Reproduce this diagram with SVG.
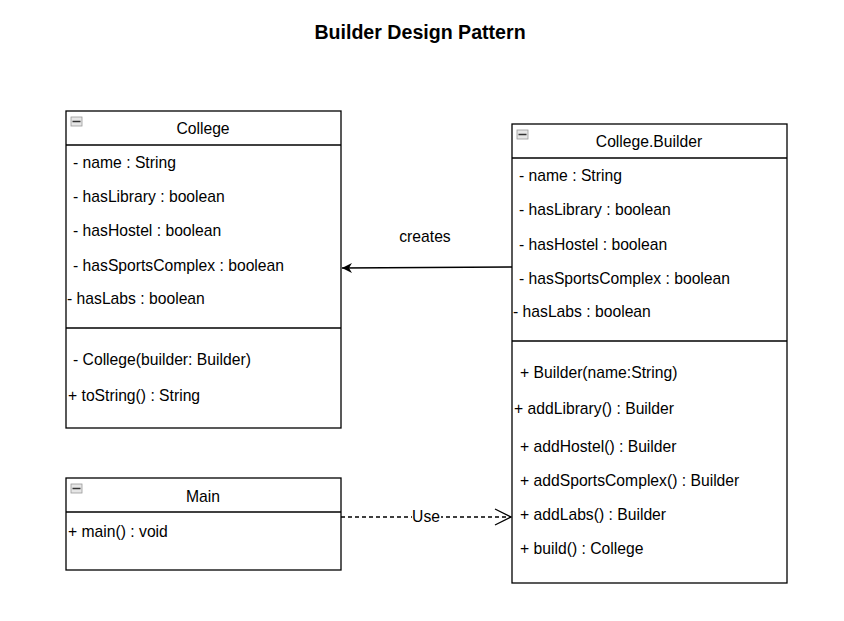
<svg xmlns="http://www.w3.org/2000/svg" width="844" height="621" viewBox="0 0 844 621">
<style>
.box{fill:#fff;stroke:#000;stroke-width:1.3}
.sep{stroke:#000;stroke-width:1.3;fill:none}
text{font-family:"Liberation Sans",Arial,sans-serif;font-size:15.7px;fill:#000}
.t{text-anchor:middle}
.ttl{font-size:19.6px;font-weight:bold;text-anchor:middle}
.ic{fill:#e6e6e6;stroke:#999;stroke-width:0.8}
.icl{stroke:#333;stroke-width:1.5}
.edge{stroke:#000;stroke-width:1.3;fill:none}
</style>
<defs>
<marker id="block" markerWidth="12" markerHeight="12" refX="10" refY="5" orient="auto" markerUnits="userSpaceOnUse" viewBox="0 0 12 10">
<path d="M0,0 L10,5 L0,10 L3,5 Z" fill="#000"/>
</marker>
<marker id="open" markerWidth="18" markerHeight="18" refX="17" refY="9" orient="auto" markerUnits="userSpaceOnUse" viewBox="0 0 18 18">
<path d="M1,1 L17,9 L1,17" fill="none" stroke="#000" stroke-width="1.3"/>
</marker>
</defs>
<text class="ttl" x="420" y="39">Builder Design Pattern</text>

<g id="college">
<rect class="box" x="66" y="111" width="275" height="317"/>
<line class="sep" x1="66" y1="145" x2="341" y2="145"/>
<line class="sep" x1="66" y1="328" x2="341" y2="328"/>
<rect class="ic" x="71" y="117" width="11" height="9"/><line class="icl" x1="72.5" y1="121.5" x2="80.5" y2="121.5"/>
<text class="t" x="203" y="134">College</text>
<text x="73" y="168">- name : String</text>
<text x="73" y="202">- hasLibrary : boolean</text>
<text x="73" y="236">- hasHostel : boolean</text>
<text x="73" y="271">- hasSportsComplex : boolean</text>
<text x="67" y="304">- hasLabs : boolean</text>
<text x="73" y="365">- College(builder: Builder)</text>
<text x="68" y="401">+ toString() : String</text>
</g>

<g id="builder">
<rect class="box" x="512" y="124" width="275" height="459"/>
<line class="sep" x1="512" y1="158" x2="787" y2="158"/>
<line class="sep" x1="512" y1="341" x2="787" y2="341"/>
<rect class="ic" x="517" y="130" width="11" height="9"/><line class="icl" x1="518.5" y1="134.5" x2="526.5" y2="134.5"/>
<text class="t" x="649" y="147">College.Builder</text>
<text x="519" y="181">- name : String</text>
<text x="519" y="215">- hasLibrary : boolean</text>
<text x="519" y="250">- hasHostel : boolean</text>
<text x="519" y="284">- hasSportsComplex : boolean</text>
<text x="513" y="317">- hasLabs : boolean</text>
<text x="520" y="378">+ Builder(name:String)</text>
<text x="514" y="414">+ addLibrary() : Builder</text>
<text x="520" y="452">+ addHostel() : Builder</text>
<text x="520" y="486">+ addSportsComplex() : Builder</text>
<text x="520" y="520">+ addLabs() : Builder</text>
<text x="520" y="554">+ build() : College</text>
</g>

<g id="main">
<rect class="box" x="66" y="478" width="275" height="92"/>
<line class="sep" x1="66" y1="512" x2="341" y2="512"/>
<rect class="ic" x="71" y="484" width="11" height="9"/><line class="icl" x1="72.5" y1="488.5" x2="80.5" y2="488.5"/>
<text class="t" x="203" y="502">Main</text>
<text x="68" y="537">+ main() : void</text>
</g>

<g id="connectors">
<path class="edge" d="M512,267 L342,268" marker-end="url(#block)"/>
<text class="t" x="425" y="242">creates</text>
<path class="edge" d="M341,517 L511,517" stroke-dasharray="4,3" marker-end="url(#open)"/>
<rect x="412" y="509" width="29" height="15" fill="#fff"/>
<text class="t" x="426" y="522">Use</text>
</g>
</svg>
